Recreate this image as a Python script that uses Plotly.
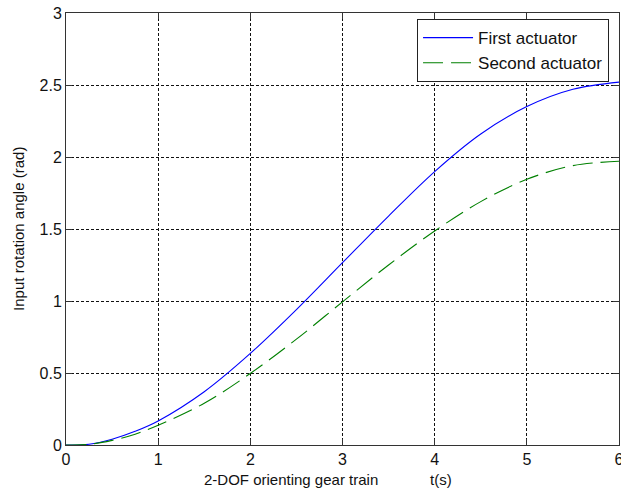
import plotly.graph_objects as go

t = [0, 0.25, 0.5, 0.75, 1, 1.5, 2, 2.5, 3, 3.5, 4, 4.5, 5, 5.5, 6]
first_actuator = [0, 0.005, 0.04, 0.095, 0.167, 0.37, 0.636, 0.94, 1.266, 1.59, 1.899, 2.16, 2.35, 2.47, 2.52]
second_actuator = [0, 0.004, 0.032, 0.075, 0.137, 0.29, 0.497, 0.735, 0.994, 1.25, 1.486, 1.69, 1.845, 1.94, 1.97]

x_ticks = [0, 1, 2, 3, 4, 5, 6]
y_ticks = [0, 0.5, 1, 1.5, 2, 2.5, 3]
y_tick_text = ["0", "0.5", "1", "1.5", "2", "2.5", "3"]

FONT = "Liberation Sans, Arial, sans-serif"

fig = go.Figure()
fig.add_trace(go.Scatter(x=t, y=first_actuator, mode="lines", name="First actuator",
                         line=dict(color="#0000ff", width=1.1, shape="spline")))
fig.add_trace(go.Scatter(x=t, y=second_actuator, mode="lines", name="Second actuator",
                         line=dict(color="#008000", width=1.1, shape="spline", dash="20px,8px")))

axis_common = dict(
    showline=True, linecolor="#333333", linewidth=1, mirror="ticks",
    ticks="inside", ticklen=6, tickcolor="#333333",
    showgrid=True, gridcolor="#111111", gridwidth=1, griddash="3px,2px",
    zeroline=False, tickfont=dict(family=FONT, size=16, color="#111111"),
    automargin=False, ticklabeloverflow="allow",
)

fig.update_xaxes(range=[0, 6], tickvals=x_ticks, **axis_common)
fig.update_yaxes(range=[0, 3], tickvals=y_ticks, ticktext=y_tick_text, **axis_common)

fig.update_layout(
    width=621, height=495,
    margin=dict(l=66, r=2, t=13, b=50, autoexpand=False),
    plot_bgcolor="white", paper_bgcolor="white",
    font=dict(family=FONT, size=15, color="#111111"),
    showlegend=True,
    legend=dict(x=0.982, y=0.986, xanchor="right", yanchor="top",
                bgcolor="white", bordercolor="#222222", borderwidth=1,
                font=dict(family=FONT, size=17, color="#111111"),
                itemwidth=50, tracegroupgap=0),
    annotations=[
        dict(text="2-DOF orienting gear train", xref="paper", yref="paper",
             x=0.407, y=-0.081, showarrow=False, xanchor="center", yanchor="middle",
             font=dict(family=FONT, size=15, color="#111111")),
        dict(text="t(s)", xref="paper", yref="paper",
             x=0.678, y=-0.081, showarrow=False, xanchor="center", yanchor="middle",
             font=dict(family=FONT, size=15, color="#111111")),
        dict(text="Input rotation angle (rad)", xref="paper", yref="paper",
             x=-0.087, y=0.5, showarrow=False, xanchor="center", yanchor="middle",
             textangle=-90, font=dict(family=FONT, size=15, color="#111111")),
    ],
)

fig.write_html("out.html", config={"displayModeBar": False},
               post_script="document.body.style.margin='0';document.body.style.overflow='hidden';")
